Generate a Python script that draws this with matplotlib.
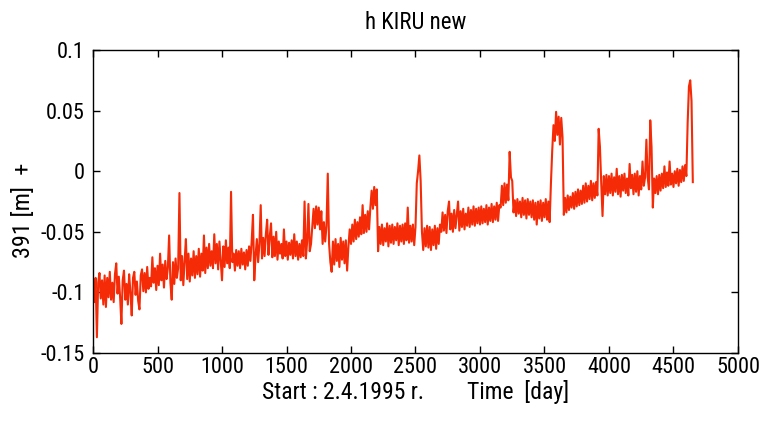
import numpy as np
import matplotlib
matplotlib.use("Agg")
import matplotlib.pyplot as plt
from matplotlib import font_manager

# ---- data, one value every 10 days ----
days = np.arange(0, 4651, 10)
values = [
    -0.095, -0.108, -0.088, -0.137, -0.092, -0.084, -0.105, -0.090, -0.110, -0.086,
    -0.112, -0.088, -0.104, -0.083, -0.106, -0.092, -0.108, -0.085, -0.076, -0.101,
    -0.087, -0.104, -0.126, -0.090, -0.082, -0.106, -0.093, -0.110, -0.085, -0.100,
    -0.119, -0.088, -0.083, -0.102, -0.091, -0.107, -0.114, -0.086, -0.081, -0.099,
    -0.084, -0.100, -0.079, -0.097, -0.088, -0.095, -0.071, -0.092, -0.080, -0.098,
    -0.078, -0.094, -0.068, -0.090, -0.077, -0.096, -0.074, -0.089, -0.080, -0.053,
    -0.092, -0.106, -0.075, -0.093, -0.072, -0.088, -0.080, -0.018, -0.090, -0.070,
    -0.094, -0.074, -0.056, -0.089, -0.068, -0.091, -0.072, -0.086, -0.066, -0.088,
    -0.070, -0.085, -0.064, -0.087, -0.068, -0.082, -0.053, -0.084, -0.063, -0.080,
    -0.060, -0.078, -0.066, -0.080, -0.052, -0.076, -0.060, -0.081, -0.058, -0.074,
    -0.090, -0.062, -0.079, -0.057, -0.076, -0.063, -0.080, -0.017, -0.075, -0.068,
    -0.082, -0.065, -0.078, -0.066, -0.080, -0.064, -0.077, -0.067, -0.081, -0.065,
    -0.078, -0.062, -0.074, -0.058, -0.036, -0.090, -0.070, -0.056, -0.075, -0.060,
    -0.028, -0.072, -0.055, -0.070, -0.052, -0.040, -0.069, -0.054, -0.043, -0.071,
    -0.054, -0.070, -0.050, -0.073, -0.058, -0.068, -0.060, -0.072, -0.048, -0.070,
    -0.058, -0.073, -0.059, -0.069, -0.057, -0.072, -0.052, -0.070, -0.058, -0.073,
    -0.060, -0.071, -0.057, -0.070, -0.025, -0.072, -0.058, -0.027, -0.066, -0.060,
    -0.045, -0.031, -0.047, -0.029, -0.044, -0.030, -0.048, -0.033, -0.060, -0.042,
    -0.058, -0.045, -0.002, -0.060, -0.075, -0.083, -0.058, -0.077, -0.056, -0.074,
    -0.060, -0.079, -0.055, -0.073, -0.058, -0.076, -0.057, -0.082, -0.062, -0.048,
    -0.060, -0.044, -0.058, -0.040, -0.056, -0.042, -0.054, -0.038, -0.052, -0.028,
    -0.051, -0.036, -0.050, -0.033, -0.048, -0.030, -0.016, -0.031, -0.013, -0.028,
    -0.015, -0.066, -0.046, -0.060, -0.044, -0.061, -0.047, -0.058, -0.043, -0.062,
    -0.045, -0.059, -0.044, -0.060, -0.046, -0.057, -0.043, -0.061, -0.045, -0.058,
    -0.044, -0.060, -0.043, -0.057, -0.030, -0.059, -0.045, -0.058, -0.044, -0.061,
    -0.046, -0.010, 0.000, 0.013, -0.008, -0.050, -0.065, -0.047, -0.062, -0.045,
    -0.063, -0.046, -0.065, -0.048, -0.061, -0.045, -0.064, -0.047, -0.060, -0.044,
    -0.050, -0.034, -0.049, -0.036, -0.051, -0.033, -0.025, -0.048, -0.035, -0.050,
    -0.032, -0.047, -0.036, -0.025, -0.049, -0.033, -0.046, -0.031, -0.048, -0.035,
    -0.045, -0.030, -0.046, -0.032, -0.044, -0.029, -0.045, -0.031, -0.043, -0.030,
    -0.044, -0.029, -0.043, -0.031, -0.042, -0.028, -0.044, -0.030, -0.041, -0.027,
    -0.042, -0.029, -0.040, -0.026, -0.041, -0.028, -0.030, -0.012, -0.028, -0.010,
    -0.026, -0.011, -0.024, 0.016, -0.005, -0.008, -0.034, -0.024, -0.037, -0.023,
    -0.035, -0.025, -0.038, -0.022, -0.036, -0.024, -0.039, -0.023, -0.036, -0.025,
    -0.038, -0.024, -0.040, -0.026, -0.044, -0.025, -0.039, -0.024, -0.041, -0.026,
    -0.038, -0.023, -0.040, -0.025, -0.042, -0.010, 0.017, 0.038, 0.025, 0.049,
    0.030, 0.045, 0.022, 0.044, 0.028, -0.036, -0.022, -0.034, -0.020, -0.032,
    -0.021, -0.030, -0.018, -0.031, -0.017, -0.029, -0.015, -0.028, -0.016, -0.027,
    -0.012, -0.026, -0.010, -0.025, -0.012, -0.023, -0.008, -0.024, -0.010, -0.022,
    -0.009, -0.020, 0.035, 0.020, -0.010, -0.037, -0.004, -0.019, -0.003, -0.020,
    -0.004, -0.018, -0.002, -0.020, -0.005, -0.017, 0.002, -0.019, -0.004, -0.021,
    -0.003, -0.016, -0.002, -0.018, -0.006, -0.020, 0.006, -0.014, -0.003, -0.019,
    -0.002, -0.017, 0.000, -0.020, -0.004, -0.015, 0.008, -0.012, -0.005, 0.026,
    -0.005, -0.015, 0.042, 0.020, -0.030, -0.006, -0.018, -0.004, -0.019, -0.003,
    -0.016, -0.002, -0.014, 0.004, -0.013, -0.001, -0.012, 0.008, -0.011, -0.002,
    -0.013, 0.000, -0.010, 0.002, -0.012, 0.001, -0.009, 0.004, -0.008, 0.005,
    -0.004, 0.040, 0.070, 0.075, 0.058, -0.009,
]
xticks = [0, 500, 1000, 1500, 2000, 2500, 3000, 3500, 4000, 4500, 5000]
yticks = [-0.15, -0.1, -0.05, 0, 0.05, 0.1]
ytick_labels = ["-0.15", "-0.1", "-0.05", "0", "0.05", "0.1"]
title = "h KIRU new"
xlabel = "Start : 2.4.1995 r.        Time  [day]"
ylabel = "391 [m]  +"

# ---- font: prefer a narrow sans like the MATLAB original ----
entries = font_manager.fontManager.ttflist
names = {f.name for f in entries}
family = None
stretch = "normal"
for cand in ["Liberation Sans Narrow", "Arial Narrow", "Roboto Condensed",
             "Open Sans Condensed", "Noto Sans Condensed", "DejaVu Sans Condensed"]:
    if cand in names:
        family = cand
        break
if family is None:
    for f in entries:
        st = str(f.stretch).lower()
        if st in ("condensed", "semi-condensed", "575", "600", "625") and "Sans" in f.name \
                and "Mono" not in f.name and "CJK" not in f.name:
            family = f.name
            stretch = "condensed"
            break
if family is None:
    family = "Liberation Sans"
plt.rcParams["font.family"] = [family, "DejaVu Sans"]
plt.rcParams["font.stretch"] = stretch

fig = plt.figure(figsize=(7.6, 4.3), dpi=100)
ax = fig.add_axes([0.1224, 0.179, 0.971 - 0.1224, 0.8837 - 0.179])
ax.plot(days, values, color="#f52a06", lw=1.5)

ax.set_xlim(0, 5000)
ax.set_ylim(-0.15, 0.1)
ax.set_xticks(xticks)
ax.set_xticklabels([str(t) for t in xticks])
ax.set_yticks(yticks)
ax.set_yticklabels(ytick_labels)
ax.tick_params(direction="in", length=5, width=1, top=True, right=True,
               labelsize=16, colors="black")
ax.tick_params(axis="x", pad=3)
ax.tick_params(axis="y", pad=6)
for s in ax.spines.values():
    s.set_linewidth(1.0)

ax.set_title(title, fontsize=16.5, pad=15)
ax.set_xlabel(xlabel, fontsize=17, labelpad=1)
ax.set_ylabel(ylabel, fontsize=17.5)
ax.yaxis.set_label_coords(-0.09, 0.47)

fig.savefig("out.png", dpi=100)
